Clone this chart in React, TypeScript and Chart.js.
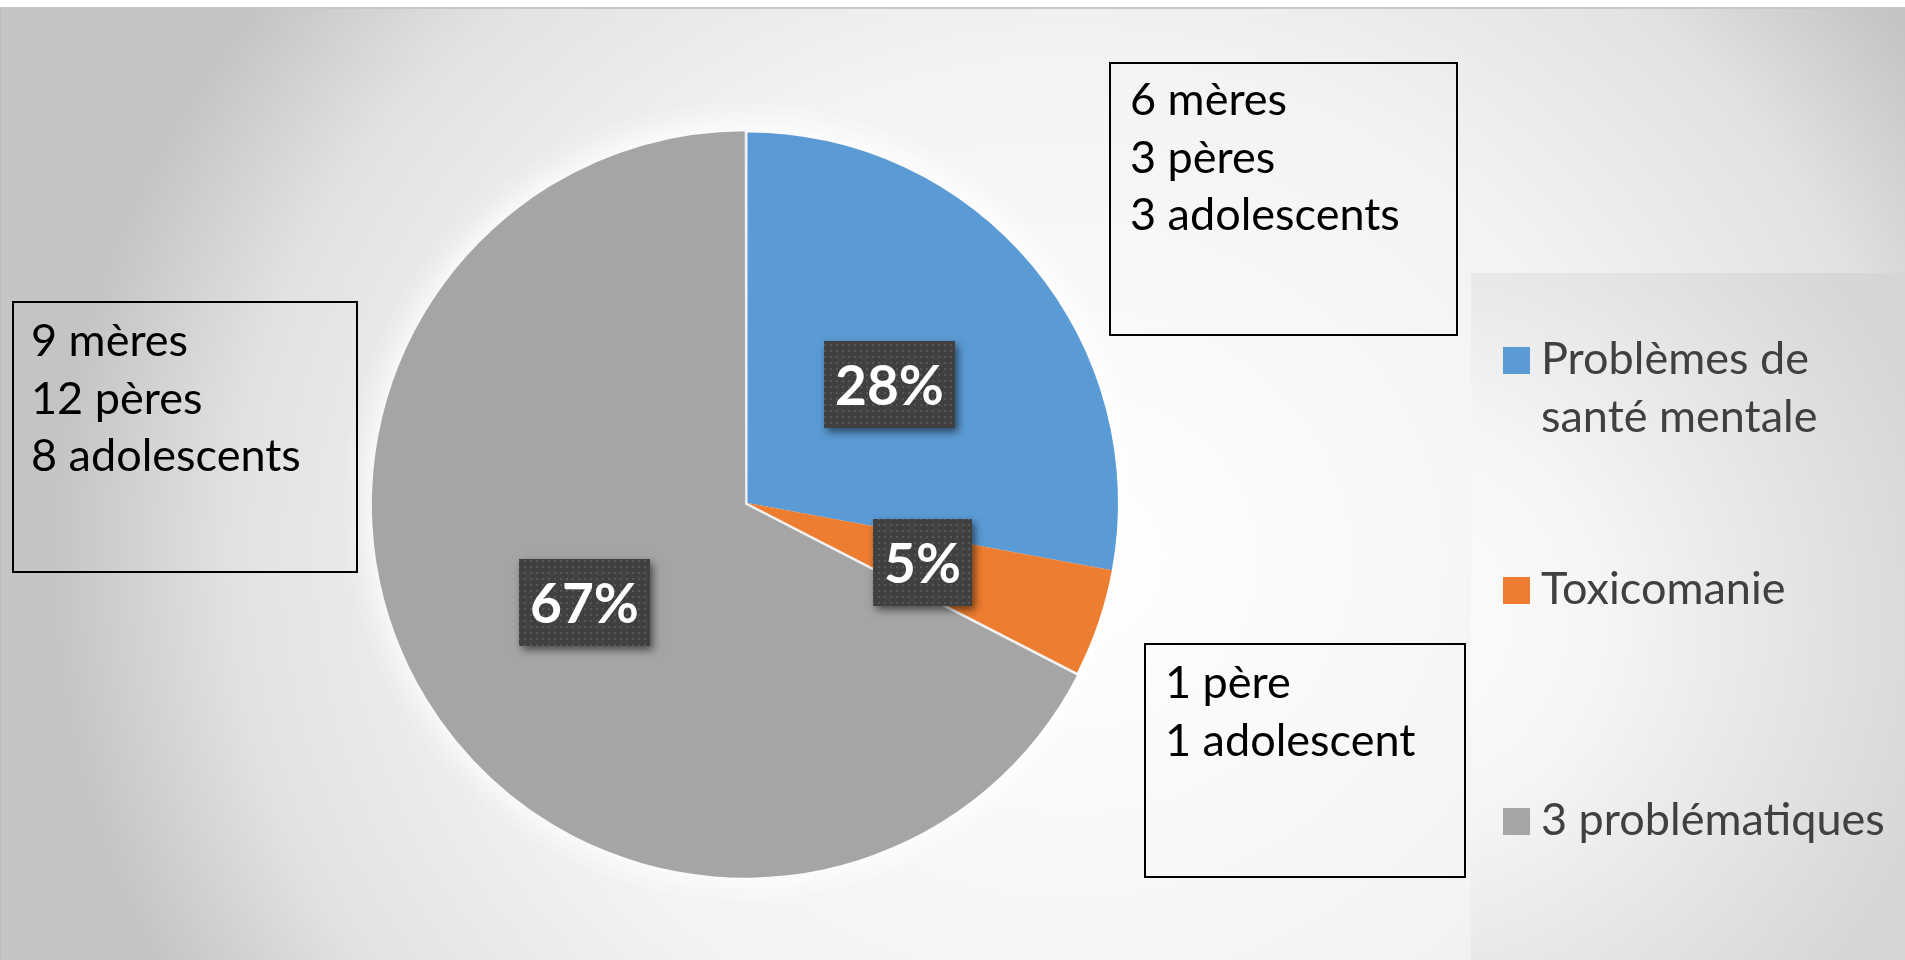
import React, { useEffect, useRef } from "react";
import { Chart, registerables } from "chart.js";

Chart.register(...registerables);

// ---- data ----
const categories: (string | string[])[] = [["Problèmes de", "santé mentale"], "Toxicomanie", "3 problématiques"];
const counts = [12, 2, 29];
const sliceColors = ["#5B9BD5", "#ED7D31", "#A5A5A5"];
const noteTop = ["6 mères", "3 pères", "3 adolescents"];
const noteLeft = ["9 mères", "12 pères", "8 adolescents"];
const noteBottom = ["1 père", "1 adolescent"];

const total = counts.reduce((a, b) => a + b, 0);
const percentLabels = counts.map((v) => Math.round((v / total) * 100) + "%");

const FONT = "Lato, 'Open Sans', sans-serif";

function makePattern(ctx: CanvasRenderingContext2D) {
  const c = document.createElement("canvas");
  c.width = 6;
  c.height = 6;
  const p = c.getContext("2d")!;
  p.fillStyle = "#404040";
  p.fillRect(0, 0, 6, 6);
  p.fillStyle = "#575757";
  p.fillRect(2, 2, 2, 2);
  return ctx.createPattern(c, "repeat");
}

const bgPlugin = {
  id: "bgPlugin",
  beforeDraw(chart: any) {
    const ctx: CanvasRenderingContext2D = chart.ctx;
    const W = chart.width;
    const H = chart.height;
    ctx.save();
    ctx.fillStyle = "#ffffff";
    ctx.fillRect(0, 0, W, H);
    // main radial background
    ctx.save();
    ctx.beginPath();
    ctx.rect(0, 8, W, H - 8);
    ctx.clip();
    ctx.translate(1070, 560);
    ctx.scale(1, 0.9);
    const g = ctx.createRadialGradient(0, 0, 0, 0, 0, 1020);
    g.addColorStop(0, "#ffffff");
    g.addColorStop(0.55, "#f3f3f3");
    g.addColorStop(0.82, "#e2e2e2");
    g.addColorStop(1, "#c4c4c4");
    ctx.fillStyle = g;
    ctx.fillRect(-1200, -800, 2400, 1400);
    ctx.restore();
    // legend area fill
    ctx.save();
    ctx.beginPath();
    ctx.rect(1471, 273, W - 1471, H - 273);
    ctx.clip();
    const lg = ctx.createRadialGradient(1400, 620, 0, 1400, 620, 560);
    lg.addColorStop(0, "#fdfdfd");
    lg.addColorStop(0.35, "#f6f6f6");
    lg.addColorStop(1, "#d6d6d6");
    ctx.fillStyle = lg;
    ctx.fillRect(1471, 273, W - 1471, H - 273);
    ctx.restore();
    // top rule and left edge
    ctx.fillStyle = "#c8c8c8";
    ctx.fillRect(0, 7, W, 2);
    ctx.fillStyle = "#bdbdbd";
    ctx.fillRect(0, 8, 1, H - 8);
    ctx.restore();
  },
  beforeDatasetsDraw(chart: any) {
    const ctx: CanvasRenderingContext2D = chart.ctx;
    const arc = chart.getDatasetMeta(0).data[0];
    if (!arc) return;
    ctx.save();
    ctx.shadowColor = "rgba(255,255,255,1)";
    ctx.shadowBlur = 40;
    ctx.fillStyle = "#f2f2f2";
    for (let k = 0; k < 2; k++) {
      ctx.beginPath();
      ctx.arc(arc.x, arc.y, arc.outerRadius, 0, Math.PI * 2);
      ctx.fill();
    }
    ctx.restore();
  },
};

const labelPlugin = {
  id: "labelPlugin",
  afterDatasetsDraw(chart: any) {
    const ctx: CanvasRenderingContext2D = chart.ctx;
    const meta = chart.getDatasetMeta(0);
    const pattern = makePattern(ctx);
    meta.data.forEach((arc: any, i: number) => {
      const p = arc.tooltipPosition(false);
      const txt = percentLabels[i];
      ctx.save();
      ctx.font = `bold 55px ${FONT}`;
      const tw = ctx.measureText(txt).width;
      const w = Math.round(tw + 22);
      const h = 87;
      const bx = Math.round(p.x - w / 2);
      const by = Math.round(p.y - h / 2);
      ctx.shadowColor = "rgba(0,0,0,0.55)";
      ctx.shadowBlur = 8;
      ctx.shadowOffsetX = 3;
      ctx.shadowOffsetY = 4;
      ctx.fillStyle = "#404040";
      ctx.fillRect(bx, by, w, h);
      ctx.shadowColor = "transparent";
      ctx.shadowBlur = 0;
      ctx.shadowOffsetX = 0;
      ctx.shadowOffsetY = 0;
      if (pattern) {
        ctx.fillStyle = pattern;
        ctx.fillRect(bx, by, w, h);
      }
      ctx.fillStyle = "#ffffff";
      ctx.textAlign = "center";
      ctx.textBaseline = "alphabetic";
      ctx.fillText(txt, bx + w / 2, by + h / 2 + 20);
      ctx.restore();
    });
  },
};

function drawNote(ctx: CanvasRenderingContext2D, x: number, y: number, w: number, h: number, tx: number, firstBase: number, lines: string[]) {
  ctx.save();
  ctx.strokeStyle = "#000000";
  ctx.lineWidth = 2;
  ctx.strokeRect(x + 1, y + 1, w - 2, h - 2);
  ctx.fillStyle = "#000000";
  ctx.font = `45px ${FONT}`;
  ctx.textAlign = "left";
  ctx.textBaseline = "alphabetic";
  lines.forEach((l, j) => ctx.fillText(l, tx, firstBase + j * 57.5));
  ctx.restore();
}

const overlayPlugin = {
  id: "overlayPlugin",
  afterDraw(chart: any) {
    const ctx: CanvasRenderingContext2D = chart.ctx;
    drawNote(ctx, 1109, 62, 349, 274, 1130, 115, noteTop);
    drawNote(ctx, 12, 301, 346, 272, 31, 356, noteLeft);
    drawNote(ctx, 1144, 643, 322, 235, 1165, 698, noteBottom);

    // legend
    const bases = [374, 604, 835];
    ctx.save();
    ctx.font = `45px ${FONT}`;
    ctx.textAlign = "left";
    ctx.textBaseline = "alphabetic";
    const labels = chart.data.labels as (string | string[])[];
    labels.forEach((lab, i) => {
      const lines = Array.isArray(lab) ? lab : [lab];
      const b = bases[i];
      ctx.fillStyle = sliceColors[i];
      ctx.fillRect(1503, b - 27, 27, 27);
      ctx.fillStyle = "#404040";
      lines.forEach((l, j) => ctx.fillText(l, 1541, b + j * 58));
    });
    ctx.restore();
  },
};

export default function App() {
  const ref = useRef<HTMLCanvasElement | null>(null);
  useEffect(() => {
    let chart: Chart | null = null;
    let cancelled = false;
    const build = () => {
      if (cancelled || !ref.current) return;
      chart = new Chart(ref.current, {
        type: "pie",
        data: {
          labels: categories as any,
          datasets: [
            {
              data: counts,
              backgroundColor: sliceColors,
              borderWidth: 0,
              offset: [0, 0, 11],
            } as any,
          ],
        },
        options: {
          animation: false,
          responsive: false,
          maintainAspectRatio: false,
          layout: { padding: { left: 371, right: 781, top: 127, bottom: 81 } },
          plugins: {
            legend: { display: false },
            tooltip: { enabled: false },
          },
        },
        plugins: [bgPlugin, labelPlugin, overlayPlugin],
      });
    };
    const fonts = (document as any).fonts;
    if (fonts && fonts.load) {
      Promise.all([fonts.load(`45px Lato`), fonts.load(`bold 55px Lato`)])
        .catch(() => null)
        .then(build);
    } else {
      build();
    }
    return () => {
      cancelled = true;
      if (chart) chart.destroy();
    };
  }, []);
  return (
    <div style={{ position: "absolute", left: 0, top: 0, width: 1905, height: 960 }}>
      <canvas ref={ref} width={1905} height={960} style={{ width: 1905, height: 960, display: "block" }} />
    </div>
  );
}
